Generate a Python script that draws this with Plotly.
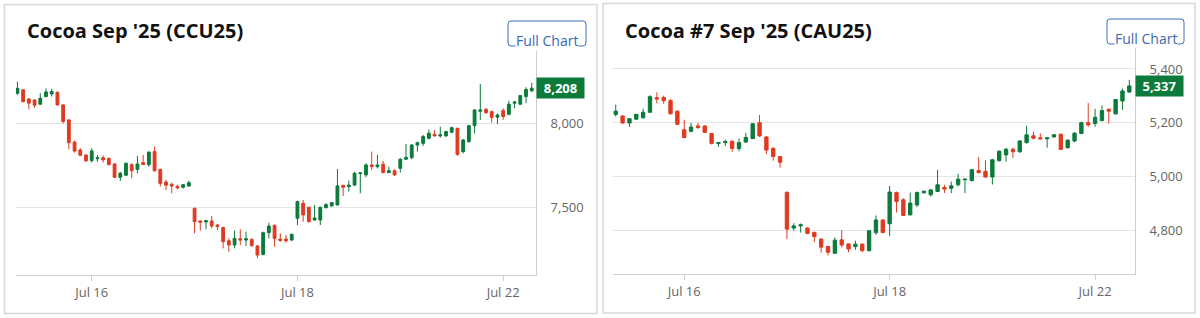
import plotly.graph_objects as go
import pandas as pd

W, H = 1200, 318

# ---------------- data: Cocoa Sep '25 (CCU25), 30-min bars ----------------
ccu_days = ["2025-07-15", "2025-07-16", "2025-07-17", "2025-07-18", "2025-07-21", "2025-07-22"]
ccu_session_start = "04:30"
ccu_bars_per_day = 18
ccu_first_day_bars = 13
ccu_last_day_bars = 6

ccu_open = [8178, 8198, 8144, 8138, 8113, 8158, 8174, 8184, 8109, 8020, 7889, 7842, 7812,
            7779, 7790, 7796, 7791, 7759, 7680, 7692, 7755, 7727, 7767, 7755, 7832, 7727, 7652, 7638, 7627, 7621, 7628,
            7496, 7421, 7415, 7421, 7397, 7382, 7304, 7279, 7316, 7308, 7312, 7273, 7223, 7352, 7395, 7314, 7314, 7308,
            7437, 7526, 7502, 7427, 7427, 7500, 7510, 7516, 7633, 7625, 7634, 7702, 7694, 7753, 7743, 7757, 7708, 7719,
            7733, 7787, 7796, 7871, 7881, 7911, 7935, 7925, 7925, 7947, 7970, 7832, 7891, 7986, 8071, 8083, 8069, 8036,
            8075, 8053, 8119, 8113, 8158, 8192]
ccu_high = [8247, 8202, 8148, 8144, 8178, 8207, 8204, 8188, 8113, 8024, 7897, 7852, 7816,
            7852, 7812, 7810, 7798, 7763, 7712, 7767, 7763, 7806, 7812, 7836, 7862, 7731, 7664, 7648, 7636, 7640, 7660,
            7500, 7427, 7427, 7451, 7403, 7388, 7318, 7364, 7372, 7358, 7318, 7279, 7358, 7411, 7401, 7348, 7338, 7346,
            7542, 7546, 7506, 7516, 7506, 7526, 7534, 7729, 7634, 7660, 7713, 7708, 7763, 7832, 7812, 7777, 7743, 7727,
            7793, 7877, 7877, 7891, 7931, 7964, 7960, 7980, 7955, 7980, 7974, 7907, 7990, 8083, 8233, 8089, 8075, 8059,
            8089, 8134, 8132, 8168, 8213, 8240]
ccu_low = [8168, 8124, 8083, 8091, 8109, 8154, 8158, 8105, 8000, 7846, 7826, 7806, 7773,
           7767, 7771, 7767, 7751, 7676, 7658, 7688, 7674, 7704, 7753, 7743, 7713, 7625, 7605, 7585, 7609, 7613, 7625,
           7348, 7364, 7372, 7378, 7368, 7259, 7239, 7259, 7279, 7273, 7269, 7200, 7217, 7318, 7269, 7298, 7292, 7304,
           7397, 7417, 7411, 7423, 7397, 7496, 7506, 7512, 7569, 7595, 7628, 7585, 7680, 7723, 7733, 7704, 7704, 7688,
           7708, 7783, 7787, 7832, 7866, 7905, 7921, 7915, 7921, 7941, 7806, 7822, 7885, 7941, 8020, 8055, 8004, 7996,
           8020, 8047, 8089, 8109, 8119, 8185]
ccu_close = [8207, 8128, 8119, 8107, 8148, 8186, 8188, 8109, 8010, 7885, 7836, 7810, 7777,
             7836, 7796, 7783, 7755, 7680, 7704, 7763, 7719, 7759, 7755, 7828, 7719, 7644, 7633, 7628, 7617, 7636, 7648,
             7417, 7413, 7423, 7391, 7388, 7299, 7279, 7318, 7308, 7316, 7275, 7219, 7352, 7391, 7318, 7306, 7304, 7342,
             7536, 7457, 7417, 7439, 7502, 7518, 7530, 7629, 7621, 7634, 7704, 7706, 7753, 7743, 7753, 7708, 7719, 7694,
             7787, 7798, 7871, 7885, 7921, 7941, 7925, 7931, 7951, 7974, 7816, 7901, 7986, 8079, 8079, 8063, 8034, 8049,
             8040, 8113, 8126, 8164, 8200, 8208]
ccu_yticks = [7500, 8000]

# ---------------- data: Cocoa #7 Sep '25 (CAU25), 30-min bars ----------------
cau_days = ["2025-07-15", "2025-07-16", "2025-07-17", "2025-07-18", "2025-07-21", "2025-07-22"]
cau_session_start = "09:30"
cau_bars_per_day = 15
cau_first_day_bars = 10
cau_last_day_bars = 6

cau_open = [5231, 5225, 5199, 5213, 5218, 5239, 5293, 5294, 5282, 5243,
            5174, 5168, 5188, 5188, 5160, 5123, 5126, 5131, 5104, 5128, 5141, 5200, 5147, 5104, 5074,
            4941, 4808, 4816, 4808, 4792, 4767, 4739, 4714, 4764, 4749, 4739, 4748, 4724, 4791, 4838,
            4824, 4940, 4913, 4857, 4894, 4939, 4932, 4944, 4959, 4956, 4969, 4988, 4985, 5022, 5019,
            4998, 5059, 5080, 5101, 5092, 5126, 5151, 5144, 5140, 5147, 5157, 5107, 5132, 5160, 5200,
            5197, 5208, 5250, 5233, 5281, 5314]
cau_high = [5267, 5227, 5217, 5233, 5252, 5302, 5313, 5301, 5288, 5245,
            5211, 5199, 5199, 5190, 5162, 5126, 5137, 5134, 5141, 5162, 5199, 5229, 5150, 5110, 5076,
            4944, 4826, 4825, 4811, 4794, 4770, 4742, 4773, 4800, 4751, 4761, 4751, 4800, 4855, 4841,
            4965, 4944, 4919, 4940, 4944, 4947, 4953, 5025, 4969, 4981, 5010, 4990, 5027, 5072, 5060,
            5065, 5097, 5107, 5107, 5135, 5189, 5167, 5160, 5145, 5157, 5160, 5138, 5164, 5204, 5273,
            5252, 5264, 5253, 5288, 5327, 5359]
cau_low = [5223, 5196, 5184, 5211, 5216, 5237, 5272, 5270, 5231, 5191,
           5142, 5164, 5177, 5162, 5119, 5110, 5113, 5092, 5094, 5125, 5139, 5147, 5083, 5059, 5033,
           4767, 4798, 4791, 4785, 4755, 4716, 4706, 4712, 4736, 4718, 4727, 4718, 4721, 4783, 4789,
           4779, 4866, 4853, 4855, 4886, 4936, 4925, 4942, 4938, 4938, 4963, 4938, 4981, 5010, 4995,
           4970, 5055, 5055, 5069, 5088, 5122, 5138, 5138, 5107, 5145, 5098, 5104, 5127, 5157, 5185,
           5185, 5205, 5197, 5230, 5248, 5311]
cau_close = [5243, 5199, 5215, 5231, 5239, 5297, 5288, 5282, 5233, 5194,
             5145, 5184, 5182, 5164, 5123, 5126, 5130, 5104, 5126, 5145, 5196, 5151, 5098, 5074, 5053,
             4804, 4816, 4820, 4788, 4776, 4737, 4718, 4763, 4745, 4730, 4748, 4724, 4798, 4838, 4791,
             4942, 4907, 4855, 4901, 4940, 4945, 4950, 4969, 4953, 4965, 4990, 4990, 5025, 5015, 4998,
             5062, 5094, 5101, 5092, 5132, 5155, 5142, 5140, 5144, 5155, 5101, 5135, 5161, 5200, 5192,
             5220, 5245, 5243, 5286, 5318, 5337]
cau_yticks = [4800, 5000, 5200, 5400]

tick_days = ["2025-07-16", "2025-07-18", "2025-07-22"]
tick_text = ["Jul 16", "Jul 18", "Jul 22"]

GREEN = "#0b7a3b"
RED = "#df3b22"
FONT = "Open Sans"


def bar_times(days, start, per_day, first_n, last_n):
    out = []
    for i, d in enumerate(days):
        t = list(pd.date_range(f"{d} {start}", periods=per_day, freq="30min"))
        if i == 0:
            t = t[-first_n:]
        elif i == len(days) - 1:
            t = t[:last_n]
        out.extend(t)
    return [x.strftime("%Y-%m-%d %H:%M") for x in out]


ccu_x = bar_times(ccu_days, ccu_session_start, ccu_bars_per_day, ccu_first_day_bars, ccu_last_day_bars)
cau_x = bar_times(cau_days, cau_session_start, cau_bars_per_day, cau_first_day_bars, cau_last_day_bars)


def first_of_day(xs, day):
    return next(x for x in xs if x.startswith(day))


def px(x):
    return x / W


def py(y):
    return 1 - y / H


fig = go.Figure()
for xs, o, h, l, c, xa, ya in [
    (ccu_x, ccu_open, ccu_high, ccu_low, ccu_close, "x", "y"),
    (cau_x, cau_open, cau_high, cau_low, cau_close, "x2", "y2"),
]:
    fig.add_trace(go.Candlestick(
        x=xs, open=o, high=h, low=l, close=c, xaxis=xa, yaxis=ya,
        increasing=dict(line=dict(color=GREEN, width=1), fillcolor=GREEN),
        decreasing=dict(line=dict(color=RED, width=1), fillcolor=RED),
        whiskerwidth=0, showlegend=False, hoverinfo="skip",
    ))

# plot areas (pixel boxes)
L = dict(x0=16, x1=536, y0=48, y1=275)
R = dict(x0=613, x1=1135, y0=48, y1=274)


def xaxis_cfg(box, xs, n):
    return dict(
        domain=[px(box["x0"]), px(box["x1"])], type="category", categoryorder="trace",
        range=n, showgrid=False, showline=True, linecolor="#cfcfcf", linewidth=1,
        ticks="outside", ticklen=5, tickcolor="#cfcfcf",
        tickvals=[first_of_day(xs, d) for d in tick_days], ticktext=tick_text,
        tickfont=dict(family=FONT, size=13, color="#666666"),
        rangeslider=dict(visible=False), fixedrange=True, zeroline=False,
    )


def yaxis_cfg(box, rng, vals, anchor):
    return dict(
        domain=[py(box["y1"]), py(box["y0"])], range=rng, side="right", anchor=anchor,
        tickvals=vals, tickformat=",", showgrid=True, gridcolor="#e4e4e4", gridwidth=1,
        showline=True, linecolor="#cfcfcf", linewidth=1, ticks="", ticklabelstandoff=11,
        tickfont=dict(family=FONT, size=13, color="#666666"), zeroline=False, fixedrange=True,
    )


fig.update_layout(
    width=W, height=H, margin=dict(l=0, r=0, t=0, b=0),
    paper_bgcolor="white", plot_bgcolor="white",
    xaxis=xaxis_cfg(L, ccu_x, [-0.25, 90.75]),
    yaxis=yaxis_cfg(L, [7101, 8446], ccu_yticks, "x"),
    xaxis2=xaxis_cfg(R, cau_x, [-0.4, 75.83]),
    yaxis2=yaxis_cfg(R, [4637, 5478], cau_yticks, "x2"),
)
fig.layout.xaxis2.anchor = "y2"
fig.layout.xaxis.anchor = "y"

shapes = []
annotations = []
# panel frames
for (x0, y0, x1, y1) in [(4.5, 4.5, 597, 313.5), (603, 3.5, 1195, 313)]:
    shapes.append(dict(type="rect", xref="paper", yref="paper", x0=px(x0), x1=px(x1), y0=py(y1), y1=py(y0),
                       line=dict(color="#d8d8d8", width=1.5), layer="below"))

# titles
for x, text in [(25, "Cocoa Sep '25 (CCU25)"), (623, "Cocoa #7 Sep '25 (CAU25)")]:
    annotations.append(dict(xref="paper", yref="paper", x=px(x), y=py(31), xanchor="left", yanchor="middle",
                            text=f"<b>{text}</b>", showarrow=False,
                            font=dict(family=FONT, size=20, color="#111111")))


def rounded_path(x0, y0, x1, y1, r=3):
    rx, ry = r / W, r / H
    X0, X1, Y0, Y1 = px(x0), px(x1), py(y1), py(y0)
    return (f"M {X0+rx},{Y1} L {X1-rx},{Y1} Q {X1},{Y1} {X1},{Y1-ry} L {X1},{Y0+ry} Q {X1},{Y0} {X1-rx},{Y0} "
            f"L {X0+rx},{Y0} Q {X0},{Y0} {X0},{Y0+ry} L {X0},{Y1-ry} Q {X0},{Y1} {X0+rx},{Y1} Z")


# "Full Chart" buttons
for (x0, y0, x1, y1) in [(508, 21, 586, 46), (1107, 19, 1184, 44)]:
    shapes.append(dict(type="path", xref="paper", yref="paper", path=rounded_path(x0, y0, x1, y1),
                       line=dict(color="#3f6fbf", width=1), fillcolor="white"))
    annotations.append(dict(xref="paper", yref="paper", x=px((x0 + x1) / 2), y=py(y1 - 5), xanchor="center",
                            yanchor="middle", text="Full Chart", showarrow=False, bgcolor="white",
                            font=dict(family=FONT, size=14, color="#3a68b4"), borderpad=0))

# last price labels
for xr, yr, val, x in [("paper", "y", ccu_close[-1], L["x1"]), ("paper", "y2", cau_close[-1], R["x1"])]:
    annotations.append(dict(xref=xr, yref=yr, x=px(x), y=val, xanchor="left", yanchor="middle",
                            text=f"<b>{val:,}</b>", showarrow=False, bgcolor=GREEN, width=43, height=16,
                            borderpad=2, font=dict(family=FONT, size=13, color="white")))

fig.update_layout(shapes=shapes, annotations=annotations)
fig.write_html("out.html")
